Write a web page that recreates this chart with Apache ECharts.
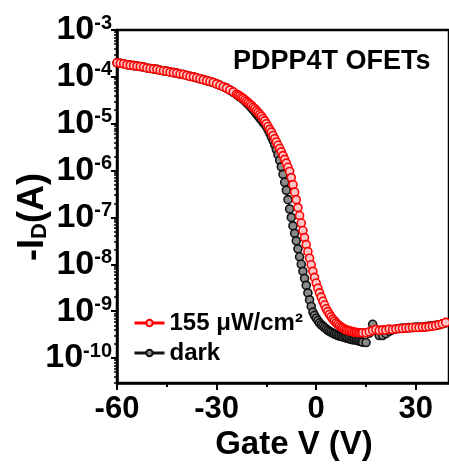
<!DOCTYPE html>
<html><head><meta charset="utf-8">
<script src="https://cdn.jsdelivr.net/npm/echarts@6/dist/echarts.min.js"></script>
<style>html,body{margin:0;padding:0;background:#fff}#c{width:449px;height:469px}</style>
</head><body><div id="c"></div>
<script>
const gateV = [-60,-59,-58,-57,-56,-55,-54,-53,-52,-51,-50,-49,-48,-47,-46,-45,-44,-43,-42,-41,
-40,-39,-38,-37,-36,-35,-34,-33,-32,-31,-30,-29,-28,-27,-26,-25,
-24,-23.5,-23,-22.5,-22,-21.5,-21,-20.5,-20,-19.5,-19,-18.5,-18,-17.5,-17,-16.5,-16,-15.5,-15,-14.5,
-14,-13.5,-13,-12.5,-12,-11.5,-11,-10.5,-10,-9.5,-9,-8.5,-8,-7.5,-7,-6.5,-6,-5.5,-5,-4.5,
-4,-3.5,-3,-2.5,-2,-1.5,-1,-0.5,0,0.5,1,1.5,2,2.5,3,3.5,4,4.5,5,5.5,
6,6.5,7,7.5,8,8.5,9,9.5,10,10.5,11,11.5,12,12.5,13,13.5,14,
15,16,17,18,19,20,21,22,23,24,25,26,27,28,29,30,31,32,33,34,35,36,37,38,39];
// log10(-I_D / A) under 155 uW/cm2
const lightLogI = [-3.70,-3.71,-3.72,-3.74,-3.75,-3.76,-3.77,-3.78,-3.79,-3.81,-3.82,-3.83,-3.84,-3.86,-3.87,-3.88,-3.90,-3.91,-3.92,-3.94,
-3.95,-3.97,-3.99,-4.00,-4.02,-4.04,-4.06,-4.08,-4.10,-4.12,-4.15,-4.18,-4.21,-4.24,-4.28,-4.32,
-4.37,-4.39,-4.41,-4.44,-4.46,-4.49,-4.52,-4.55,-4.58,-4.61,-4.65,-4.68,-4.72,-4.76,-4.80,-4.84,-4.89,-4.94,-5.00,-5.06,
-5.12,-5.18,-5.25,-5.32,-5.39,-5.46,-5.53,-5.60,-5.68,-5.76,-5.84,-5.93,-6.02,-6.15,-6.30,-6.46,-6.62,-6.79,-6.96,-7.12,
-7.28,-7.43,-7.58,-7.73,-7.87,-8.01,-8.15,-8.28,-8.40,-8.51,-8.61,-8.70,-8.79,-8.87,-8.95,-9.01,-9.07,-9.12,-9.17,-9.21,
-9.25,-9.28,-9.31,-9.34,-9.36,-9.38,-9.40,-9.41,-9.42,-9.43,-9.44,-9.45,-9.45,-9.46,-9.46,-9.46,-9.46,
-9.46,-9.44,-9.41,-9.39,-9.41,-9.40,-9.40,-9.38,-9.39,-9.38,-9.37,-9.37,-9.36,-9.36,-9.35,-9.35,-9.35,-9.34,-9.34,-9.33,-9.32,-9.31,-9.29,-9.27,-9.24];
// log10(-I_D / A) in the dark
const darkLogI = [-3.70,-3.71,-3.72,-3.74,-3.75,-3.76,-3.77,-3.78,-3.79,-3.81,-3.82,-3.83,-3.84,-3.86,-3.87,-3.88,-3.90,-3.91,-3.92,-3.94,
-3.95,-3.97,-3.99,-4.00,-4.02,-4.04,-4.06,-4.08,-4.10,-4.12,-4.15,-4.18,-4.21,-4.24,-4.28,-4.33,
-4.38,-4.40,-4.43,-4.45,-4.48,-4.51,-4.55,-4.58,-4.62,-4.66,-4.70,-4.74,-4.79,-4.83,-4.88,-4.92,-4.97,-5.01,-5.06,-5.13,
-5.20,-5.28,-5.36,-5.45,-5.55,-5.66,-5.78,-5.92,-6.08,-6.25,-6.42,-6.62,-6.82,-7.00,-7.18,-7.34,-7.50,-7.67,-7.84,-8.00,
-8.15,-8.30,-8.45,-8.61,-8.76,-8.90,-9.02,-9.09,-9.15,-9.20,-9.25,-9.29,-9.32,-9.35,-9.38,-9.41,-9.43,-9.45,-9.47,-9.49,
-9.50,-9.52,-9.53,-9.54,-9.55,-9.56,-9.57,-9.58,-9.59,-9.60,-9.61,-9.61,-9.62,-9.63,-9.64,-9.65,-9.66,
-9.67,-9.47,-9.28,-9.42,-9.52,-9.52,-9.48,-9.43,-9.40,-9.38,-9.37,-9.36,-9.36,-9.35,-9.35,-9.34,-9.34,-9.34,-9.33,-9.32,-9.31,-9.30,-9.29,-9.27,-9.25];
const yDecades = [-10,-9,-8,-7,-6,-5,-4,-3];
const xTickLabels = [-60,-30,0,30];
const xMinorTicks = [-45,-15,15];
const seriesNames = ['155 μW/cm²','dark'];
const yMin = -10.533, yMax = -3;

const FONT = '"Liberation Sans", Arial, sans-serif';
const yMinor = [];
for (const e of [-11].concat(yDecades)) {
  for (let k = 2; k <= 9; k++) { const v = e + Math.log10(k); if (v >= yMin && v <= yMax) yMinor.push(v); }
}
const chart = echarts.init(document.getElementById('c'), null, {renderer: 'canvas'});
const axisCommon = {type: 'value', splitLine: {show: false}};
chart.setOption({
  animation: false,
  backgroundColor: '#fff',
  grid: {left: 117, top: 30, width: 336, height: 353, show: true, borderColor: '#000', borderWidth: 2.5, backgroundColor: 'transparent'},
  xAxis: [
    Object.assign({}, axisCommon, {min: -60, max: 40, position: 'bottom',
      axisLine: {show: true, onZero: false, lineStyle: {color: '#000', width: 2.5}},
      axisTick: {show: true, customValues: xTickLabels, length: 7, lineStyle: {color: '#000', width: 2}},
      axisLabel: {customValues: xTickLabels, fontSize: 31, fontWeight: 'bold', fontFamily: FONT, color: '#000', margin: 11}}),
    Object.assign({}, axisCommon, {min: -60, max: 40, position: 'bottom',
      axisLine: {show: false, onZero: false},
      axisTick: {show: true, customValues: xMinorTicks, length: 4, lineStyle: {color: '#000', width: 2}},
      axisLabel: {show: false}})
  ],
  yAxis: [
    Object.assign({}, axisCommon, {min: yMin, max: yMax, position: 'left',
      axisLine: {show: true, onZero: false, lineStyle: {color: '#000', width: 2.5}},
      axisTick: {show: true, customValues: yDecades, length: 6, lineStyle: {color: '#000', width: 2}},
      axisLabel: {customValues: yDecades, margin: 5,
        formatter: v => '{b|10}{s|' + Math.round(v) + '}',
        rich: {
          b: {fontSize: 34, fontWeight: 'bold', fontFamily: FONT, color: '#000', lineHeight: 34, padding: [10, 0, 0, 0], verticalAlign: 'bottom'},
          s: {fontSize: 20, fontWeight: 'bold', fontFamily: FONT, color: '#000', lineHeight: 20, verticalAlign: 'top'}
        }}}),
    Object.assign({}, axisCommon, {min: yMin, max: yMax, position: 'left',
      axisLine: {show: false, onZero: false},
      axisTick: {show: true, customValues: yMinor, length: 3, lineStyle: {color: '#000', width: 1.5}},
      axisLabel: {show: false}})
  ],
  legend: {
    data: seriesNames, orient: 'vertical', left: 128, top: 305, itemWidth: 30, itemHeight: 8, itemGap: 4,
    lineStyle: {width: 3},
    textStyle: {fontSize: 24, fontWeight: 'bold', fontFamily: FONT, color: '#000', lineHeight: 26}
  },
  series: [
    {name: seriesNames[1], type: 'line', xAxisIndex: 0, yAxisIndex: 0,
     data: gateV.map((v, i) => [v, darkLogI[i]]),
     symbol: 'circle', symbolSize: 8, showSymbol: true,
     itemStyle: {color: '#8a8a8a', borderColor: '#111', borderWidth: 1.6},
     lineStyle: {color: '#111', width: 1.5}},
    {name: seriesNames[0], type: 'line', xAxisIndex: 0, yAxisIndex: 0,
     data: gateV.map((v, i) => [v, lightLogI[i]]),
     symbol: 'circle', symbolSize: 8, showSymbol: true,
     itemStyle: {color: '#ffc8c8', borderColor: '#ff0000', borderWidth: 1.6},
     lineStyle: {color: '#ff0000', width: 1.5}}
  ],
  graphic: [
    {type: 'text', x: 294, y: 445, style: {text: 'Gate V (V)', fontSize: 33, fontWeight: 'bold', fontFamily: FONT, fill: '#000', align: 'center', verticalAlign: 'middle'}},
    {type: 'text', x: 233, y: 62, style: {text: 'PDPP4T OFETs', fontSize: 27, fontWeight: 'bold', fontFamily: FONT, fill: '#000', align: 'left', verticalAlign: 'middle'}},
    {type: 'text', x: 33, y: 217, rotation: Math.PI / 2,
     style: {text: '{a|-I}{d|D}{a|(A)}', align: 'center', verticalAlign: 'middle',
       rich: {
         a: {fontSize: 36, fontWeight: 'bold', fontFamily: FONT, fill: '#000', lineHeight: 36, padding: [0, 0, 6, 0], verticalAlign: 'top'},
         d: {fontSize: 22, fontWeight: 'bold', fontFamily: FONT, fill: '#000', lineHeight: 22, verticalAlign: 'bottom'}
       }}}
  ]
});
</script></body></html>
